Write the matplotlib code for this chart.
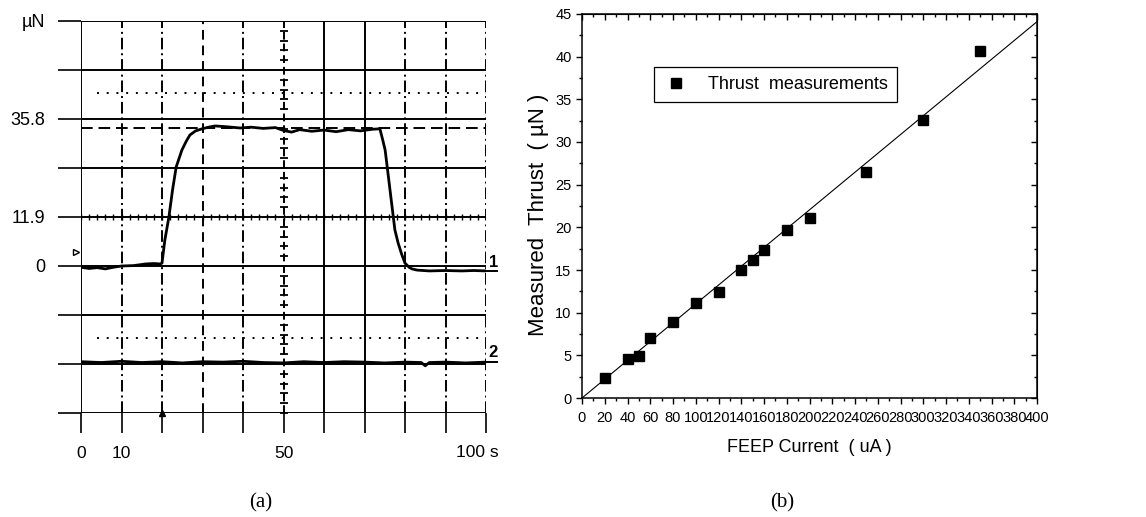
import numpy as np
import matplotlib
matplotlib.use("Agg")
import matplotlib.pyplot as plt
from matplotlib.ticker import MultipleLocator, NullFormatter
from matplotlib.transforms import blended_transform_factory

plt.rcParams['font.family'] = ['Liberation Sans', 'DejaVu Sans']

# ---- (a) oscilloscope trace, µN vs s ----
div = 11.93  # µN per division
t1 = [0, 2, 4, 6, 8, 10, 13, 16, 18, 19.5, 20, 20.7, 21.7, 22.6, 23.5, 24.9, 26.0, 26.9,
      28.3, 29.9, 31.5, 33.1, 36, 39.3, 42, 45, 48, 50, 52, 54, 57, 60, 63, 66, 69, 72,
      73.8, 74.5, 75.1, 76.3, 77.5, 78.3, 79.2, 80.0, 81.0, 81.7, 83, 86, 90, 94, 97, 100]
y1 = [-0.3, -0.6, -0.4, -0.7, -0.3, 0.0, 0.1, 0.5, 0.6, 0.5, 0.7, 6.3, 11.9, 18.5, 24.1,
      28.2, 30.4, 31.9, 32.9, 33.4, 33.8, 34.1, 33.9, 33.6, 33.8, 33.5, 33.7, 33.0, 32.6,
      33.2, 32.8, 33.1, 32.7, 33.2, 32.9, 33.3, 33.4, 30.7, 28.2, 18.5, 8.8, 5.6, 2.8, 0.7,
      -0.3, -0.7, -1.0, -1.2, -1.1, -1.2, -1.1, -1.2]
t2 = [0, 5, 10, 15, 20, 25, 30, 35, 40, 45, 50, 55, 60, 65, 70, 75, 80, 84, 85, 86, 90, 95, 100]
y2 = [-23.3, -23.5, -23.2, -23.5, -23.3, -23.6, -23.3, -23.4, -23.2, -23.5, -23.6, -23.3,
      -23.5, -23.3, -23.4, -23.6, -23.4, -23.5, -24.3, -23.5, -23.4, -23.6, -23.4]
dashed_level = 33.6
dotted_levels = [3.53 * div, -1.46 * div]
ytick_labels = {5: "\u00b5N", 3: "35.8", 1: "11.9", 0: "0"}

# ---- (b) thrust vs current ----
current = [20, 40, 50, 60, 80, 100, 120, 140, 150, 160, 180, 200, 250, 300, 350]
thrust = [2.38, 4.53, 4.92, 7.0, 8.95, 11.1, 12.4, 15.0, 16.2, 17.4, 19.7, 21.06, 26.45, 32.6, 40.66]
fit_x = [0, 400]
fit_y = [0, 44.1]

fig = plt.figure(figsize=(11.46, 5.17), dpi=100)

# ================= panel (a) =================
ax = fig.add_axes([81 / 1146, 104 / 517, 405 / 1146, 392 / 517])
ax.set_xlim(0, 100)
ax.set_ylim(-3 * div, 5 * div)
for s in ax.spines.values():
    s.set_visible(False)

for k in range(-3, 6):
    ax.axhline(k * div, color='black', lw=1.4, zorder=2)

vstyles = {0: '-', 10: (0, (6, 2, 1, 2)), 20: (0, (6, 2, 1, 2)), 30: (0, (5, 3)),
           40: (0, (6, 2, 1, 2)), 50: (0, (4, 2)), 60: '-', 70: '-',
           80: (0, (6, 2, 1, 2)), 90: (0, (6, 2, 1, 2)), 100: (0, (6, 2, 1, 2))}
for xv, ls in vstyles.items():
    ax.axvline(xv, color='black', lw=1.4, ls=ls, zorder=2)

# centre graticule minor marks
ax.plot(np.full(40, 50.0), np.arange(-3, 5, 0.2) * div, ls='none', marker='_',
        ms=6, mew=1.3, color='black', zorder=3)
ax.plot(np.arange(0, 100, 2.0), np.full(50, div), ls='none', marker='|',
        ms=5, mew=1.0, color='black', zorder=3)

ax.axhline(dashed_level, color='black', lw=1.4, ls=(0, (6, 3)), zorder=2)
for lv in dotted_levels:
    ax.plot([4, 100], [lv, lv], color='black', lw=1.4, ls=(0, (1, 4)), zorder=2)

ax.plot(t1, y1, color='black', lw=2.0, zorder=4)
ax.plot(t2, y2, color='black', lw=2.0, zorder=4)

ax.plot([100, 102.8], [-1.2, -1.2], color='black', lw=1.4, clip_on=False)
ax.plot([100, 102.8], [-23.4, -23.4], color='black', lw=1.4, clip_on=False)
ax.text(101.8, -1.0, "1", fontsize=12, fontweight='bold', ha='center', va='bottom')
ax.text(101.8, -23.0, "2", fontsize=12, fontweight='bold', ha='center', va='bottom')
ax.plot([-1.2], [3.4], marker='>', ms=5, mfc='white', mec='black', clip_on=False)
ax.plot([20], [-3 * div], marker='^', ms=5, color='black', clip_on=False)

ax.set_yticks([k * div for k in range(-3, 6)])
ax.set_yticklabels([ytick_labels.get(k, "") for k in range(-3, 6)], fontsize=13)
ax.set_xticks(range(0, 101, 10))
ax.set_xticklabels(["0", "10", "", "", "", "50", "", "", "", "", ""], fontsize=12.5)
ax.tick_params(axis='y', length=16.5, width=1.2, pad=9, direction='out')
ax.tick_params(axis='x', length=14.4, width=1.2, pad=9, direction='out')
trans = blended_transform_factory(ax.transData, ax.transAxes)
ax.text(103, -0.0995, "100 s", fontsize=12.5, ha='right', va='center', transform=trans)

fig.text(261 / 1146, 1 - 503 / 517, "(a)", fontsize=15, family=['Liberation Serif'],
         ha='center', va='center')

# ================= panel (b) =================
bx = fig.add_axes([582 / 1146, 119 / 517, 455 / 1146, 384 / 517])
bx.plot(fit_x, fit_y, color='black', lw=0.8)
bx.plot(current, thrust, ls='none', marker='s', ms=6.5, color='black',
        label="Thrust  measurements")
bx.set_xlim(0, 400)
bx.set_ylim(0, 45)
bx.xaxis.set_major_locator(MultipleLocator(20))
bx.xaxis.set_minor_locator(MultipleLocator(10))
bx.yaxis.set_major_locator(MultipleLocator(5))
bx.yaxis.set_minor_locator(MultipleLocator(2.5))
bx.tick_params(which='major', length=4.5, width=1.0, direction='out', labelsize=10.5, pad=3)
bx.tick_params(axis='x', which='major', pad=4.5)
bx.tick_params(which='minor', length=2.5, width=1.0, direction='out')
for s in bx.spines.values():
    s.set_linewidth(1.1)

top = bx.secondary_xaxis('top')
top.xaxis.set_major_locator(MultipleLocator(20))
top.xaxis.set_minor_locator(MultipleLocator(10))
top.xaxis.set_major_formatter(NullFormatter())
top.tick_params(which='major', length=4.5, width=1.0, direction='in')
top.tick_params(which='minor', length=2.5, width=1.0, direction='in')
right = bx.secondary_yaxis('right')
right.yaxis.set_major_locator(MultipleLocator(5))
right.yaxis.set_minor_locator(MultipleLocator(2.5))
right.yaxis.set_major_formatter(NullFormatter())
right.tick_params(which='major', length=4.5, width=1.0, direction='in')
right.tick_params(which='minor', length=2.5, width=1.0, direction='in')

bx.set_xlabel("FEEP Current  ( uA )", fontsize=13)
bx.xaxis.set_label_coords(0.5, -0.108)
bx.set_ylabel("Measured  Thrust  ( \u00b5N )", fontsize=16)
bx.yaxis.set_label_coords(-0.073, 0.477)

leg = bx.legend(loc='center', bbox_to_anchor=(0.425, 0.816), fontsize=13,
                frameon=True, fancybox=False, edgecolor='black', framealpha=1,
                handletextpad=1.1, borderpad=0.5, handlelength=1.4, borderaxespad=0)
leg.get_frame().set_linewidth(0.9)

fig.text(782 / 1146, 1 - 503 / 517, "(b)", fontsize=15, family=['Liberation Serif'],
         ha='center', va='center')

fig.savefig("out.png", dpi=100)
